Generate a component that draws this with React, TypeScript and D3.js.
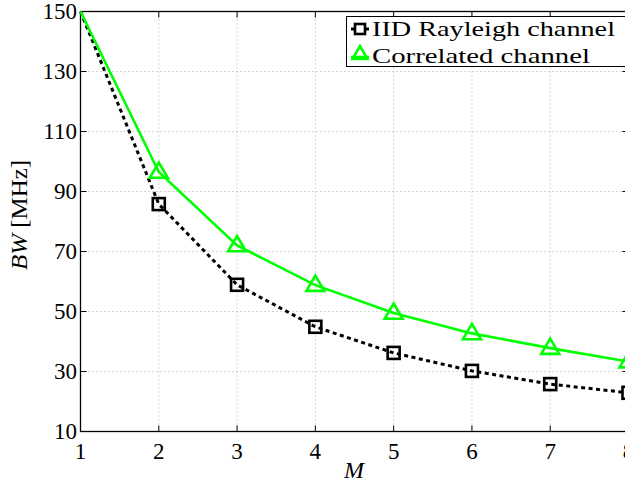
import React from "react";
import * as d3 from "d3";

const mValues = [1, 2, 3, 4, 5, 6, 7, 8];
const iidBW = [150, 85.8, 58.9, 44.9, 36.2, 30.2, 25.8, 22.9];
const corrBW = [150, 96.5, 72, 58.8, 49.5, 42.7, 37.8, 33.3];
const xTicks = [1, 2, 3, 4, 5, 6, 7, 8];
const yTicks = [10, 30, 50, 70, 90, 110, 130, 150];
const seriesNames = ["IID Rayleigh channel", "Correlated channel"];

const W = 625;
const H = 484;
const L = 80.5, R = 628.5, T = 11.5, B = 431.5;
const FONT = '"Liberation Serif"';

export default function App() {
  const x = d3.scaleLinear().domain([1, 8]).range([L, R]);
  const y = d3.scaleLinear().domain([10, 150]).range([B, T]);
  const line = d3
    .line<number>()
    .x((_, i) => x(mValues[i]))
    .y((d) => y(d));

  const sq = 12;
  const tri = (cx: number, cy: number, s: number) => {
    const h = s * 0.85;
    return `M${cx},${cy - h * 0.62} L${cx + s / 2},${cy + h * 0.38} L${cx - s / 2},${cy + h * 0.38} Z`;
  };
  const ts = (size: number, italic = false) => ({
    fontFamily: FONT,
    fontSize: size,
    fontStyle: italic ? "italic" : "normal",
  });

  return (
    <svg
      width={W}
      height={H}
      style={{ position: "absolute", left: 0, top: 0, background: "#fff" }}
    >
      <rect x={0} y={0} width={W} height={H} fill="#fff" />
      {xTicks.slice(1, -1).map((t) => (
        <line key={"gx" + t} x1={x(t)} x2={x(t)} y1={T} y2={B} stroke="#999" strokeWidth={0.8} strokeDasharray="1,3" />
      ))}
      {yTicks.slice(1, -1).map((t) => (
        <line key={"gy" + t} x1={L} x2={R} y1={y(t)} y2={y(t)} stroke="#999" strokeWidth={0.8} strokeDasharray="1,3" />
      ))}
      <rect x={L} y={T} width={R - L} height={B - T} fill="none" stroke="#000" strokeWidth={1.3} />
      {xTicks.map((t) => (
        <g key={"tx" + t}>
          <line x1={x(t)} x2={x(t)} y1={B} y2={B - 6} stroke="#000" strokeWidth={1} />
          <line x1={x(t)} x2={x(t)} y1={T} y2={T + 6} stroke="#000" strokeWidth={1} />
          <text x={x(t)} y={459} style={ts(23)} textAnchor="middle">{t}</text>
        </g>
      ))}
      {yTicks.map((t) => (
        <g key={"ty" + t}>
          <line x1={L} x2={L + 6} y1={y(t)} y2={y(t)} stroke="#000" strokeWidth={1} />
          <line x1={R} x2={R - 6} y1={y(t)} y2={y(t)} stroke="#000" strokeWidth={1} />
          <text x={77} y={y(t) + 7.5} style={ts(23)} textAnchor="end">{t}</text>
        </g>
      ))}
      <text x={354} y={478} style={ts(24, true)} textAnchor="middle">M</text>
      <text
        transform={`translate(27,215) rotate(-90)`}
        style={ts(23)}
        textAnchor="middle"
        textLength={110}
        lengthAdjust="spacingAndGlyphs"
      >
        <tspan fontStyle="italic">BW</tspan>
        <tspan> [MHz]</tspan>
      </text>
      <path d={line(iidBW) || ""} fill="none" stroke="#000" strokeWidth={3} strokeDasharray="4,3.5" />
      <path d={line(corrBW) || ""} fill="none" stroke="#00ff00" strokeWidth={2.6} />
      {iidBW.map((v, i) =>
        i === 0 ? null : (
          <rect key={"s" + i} x={x(mValues[i]) - sq / 2} y={y(v) - sq / 2} width={sq} height={sq} fill="none" stroke="#000" strokeWidth={2.6} />
        )
      )}
      {corrBW.map((v, i) =>
        i === 0 ? null : (
          <path key={"t" + i} d={tri(x(mValues[i]), y(v), 18)} fill="none" stroke="#00ff00" strokeWidth={2.6} />
        )
      )}
      <rect x={346.5} y={16.5} width={280} height={50} fill="#fff" stroke="#000" strokeWidth={1} />
      <line x1={351} x2={369} y1={29} y2={29} stroke="#000" strokeWidth={3} />
      <rect x={360 - 5} y={29 - 5} width={10} height={10} fill="#fff" stroke="#000" strokeWidth={2.6} />
      <text x={372} y={36} style={ts(21)} textLength={243} lengthAdjust="spacingAndGlyphs">{seriesNames[0]}</text>
      <line x1={351} x2={369} y1={57} y2={57} stroke="#00ff00" strokeWidth={2.6} />
      <path d={tri(360, 54, 15)} fill="none" stroke="#00ff00" strokeWidth={2.6} />
      <text x={372} y={63} style={ts(21)} textLength={218} lengthAdjust="spacingAndGlyphs">{seriesNames[1]}</text>
    </svg>
  );
}
